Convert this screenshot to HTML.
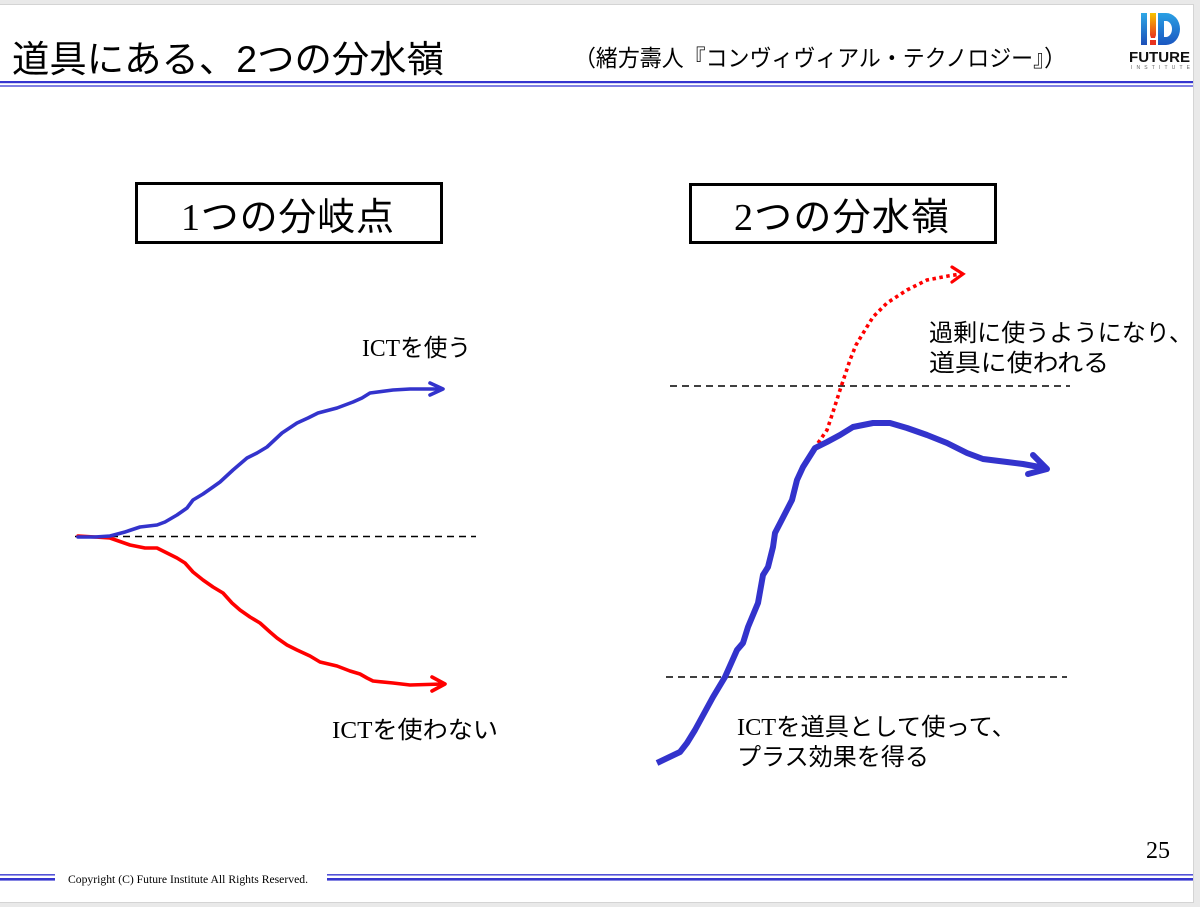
<!DOCTYPE html>
<html>
<head>
<meta charset="utf-8">
<style>
  html,body{margin:0;padding:0;background:#fff;}
  body{width:1200px;height:907px;overflow:hidden;}
  svg{display:block;}
  .jp{font-family:"Liberation Sans","Noto Sans CJK JP",sans-serif;}
  .sf{font-family:"Liberation Serif","Noto Serif CJK SC",serif;}
</style>
</head>
<body>
<svg width="1200" height="907" viewBox="0 0 1200 907" xmlns="http://www.w3.org/2000/svg">
  <defs>
    <linearGradient id="gI" x1="0" y1="0" x2="0" y2="1">
      <stop offset="0" stop-color="#2fa8e6"/>
      <stop offset="1" stop-color="#1d4fb8"/>
    </linearGradient>
    <linearGradient id="gEx" x1="0" y1="0" x2="0" y2="1">
      <stop offset="0" stop-color="#f7c400"/>
      <stop offset="1" stop-color="#e8321e"/>
    </linearGradient>
    <linearGradient id="gD" x1="0" y1="0" x2="0" y2="1">
      <stop offset="0" stop-color="#2aa0e4"/>
      <stop offset="1" stop-color="#1a56c0"/>
    </linearGradient>
  </defs>

  <!-- frame -->
  <rect x="0" y="0" width="1200" height="907" fill="#ffffff"/>
  <rect x="0" y="0" width="1200" height="4" fill="#e9e9e9"/>
  <rect x="1194" y="0" width="6" height="907" fill="#e9e9e9"/>
  <rect x="0" y="903" width="1200" height="4" fill="#e9e9e9"/>
  <line x1="0" y1="4.5" x2="1194" y2="4.5" stroke="#d4d4d4" stroke-width="1"/>
  <line x1="1193.5" y1="4" x2="1193.5" y2="903" stroke="#d4d4d4" stroke-width="1"/>
  <line x1="0" y1="902.5" x2="1194" y2="902.5" stroke="#d4d4d4" stroke-width="1"/>

  <!-- title -->
  <text class="jp" x="12" y="72" font-size="37" fill="#000" textLength="432" lengthAdjust="spacingAndGlyphs">道具にある、2つの分水嶺</text>
  <text class="jp" x="574" y="66" font-size="23" fill="#000" textLength="492" lengthAdjust="spacingAndGlyphs">（緒方壽人『コンヴィヴィアル・テクノロジー』）</text>

  <!-- logo -->
  <rect x="1141" y="13" width="6" height="32" fill="url(#gI)"/>
  <path d="M1150 13 h6 v22 l-1 3 h-4 l-1 -3 z" fill="url(#gEx)"/>
  <rect x="1150" y="40" width="6" height="5" fill="#e8321e"/>
  <path d="M1158 13 h8 a14 16 0 0 1 0 32 h-8 z M1164 21 v16 h2 a6 8 0 0 0 0 -16 z" fill="url(#gD)" fill-rule="evenodd"/>
  <text x="1129" y="62" font-family="Liberation Sans, sans-serif" font-weight="bold" font-size="15" fill="#111" textLength="61" lengthAdjust="spacingAndGlyphs">FUTURE</text>
  <text x="1131" y="69" font-family="Liberation Sans, sans-serif" font-size="5" fill="#666" textLength="59" lengthAdjust="spacing">INSTITUTE</text>

  <!-- header lines -->
  <rect x="0" y="81" width="1193" height="2.2" fill="#3535cf"/>
  <rect x="0" y="85.3" width="1193" height="1.4" fill="#4a4ad6"/>

  <!-- boxes -->
  <rect x="136.5" y="183.5" width="305" height="59" fill="none" stroke="#000" stroke-width="3"/>
  <text x="181" y="230" font-size="38" fill="#000" textLength="213" lengthAdjust="spacing" class="jp"><tspan class="sf">1</tspan>つの分岐点</text>
  <rect x="690.5" y="184.5" width="305" height="58" fill="none" stroke="#000" stroke-width="3"/>
  <text x="734" y="230" font-size="38" fill="#000" textLength="215" lengthAdjust="spacing" class="jp"><tspan class="sf">2</tspan>つの分水嶺</text>

  <!-- left chart -->
  <line x1="75" y1="536.5" x2="476" y2="536.5" stroke="#000" stroke-width="1.4" stroke-dasharray="7 5"/>
  <polyline fill="none" stroke="#ff0000" stroke-width="3.6" stroke-linejoin="round" stroke-linecap="round"
    points="78,536 95,537 110,538 130,545 145,548 157,548 167,553 177,558 185,563 193,572 203,580 213,587 223,593 232,603 240,610 250,617 260,623 270,632 277,638 287,645 297,650 310,656 320,662 337,666 350,671 360,674 367,678 373,681 393,683 410,685 443,684"/>
  <polyline fill="none" stroke="#ff0000" stroke-width="3.6" stroke-linejoin="round" stroke-linecap="round" points="432,677 445,684 432,691"/>
  <polyline fill="none" stroke="#3333cc" stroke-width="3.6" stroke-linejoin="round" stroke-linecap="round"
    points="78,537 95,537 110,536 125,532 140,527 157,525 165,522 177,515 187,508 193,500 203,494 213,487 220,482 233,470 247,458 257,453 267,447 282,433 297,423 308,418 318,413 337,408 353,402 362,398 370,393 393,390 410,389 441,389"/>
  <polyline fill="none" stroke="#3333cc" stroke-width="3.6" stroke-linejoin="round" stroke-linecap="round" points="430,383 443,389 430,395"/>

  <text x="362" y="356" font-size="24" fill="#000" class="jp" textLength="109" lengthAdjust="spacingAndGlyphs"><tspan class="sf">ICT</tspan>を使う</text>
  <text x="332" y="738" font-size="24" fill="#000" class="jp" textLength="166" lengthAdjust="spacingAndGlyphs"><tspan class="sf">ICT</tspan>を使わない</text>

  <!-- right chart -->
  <line x1="670" y1="386" x2="1070" y2="386" stroke="#000" stroke-width="1.4" stroke-dasharray="7 5"/>
  <line x1="666" y1="677" x2="1067" y2="677" stroke="#000" stroke-width="1.4" stroke-dasharray="7 5"/>

  <polyline fill="none" stroke="#ff0000" stroke-width="3.6" stroke-dasharray="3.5 3.5"
    points="818,443 827,430 833,412 840,390 845,375 850,360 856,345 862,335 873,317 887,303 907,290 927,280 948,276 961,274"/>
  <polyline fill="none" stroke="#ff0000" stroke-width="3.2" stroke-linejoin="miter" stroke-linecap="round" points="952,267 963,274 952,282"/>

  <polyline fill="none" stroke="#3333cc" stroke-width="6" stroke-linejoin="round" stroke-linecap="butt"
    points="657,763 680,752 687,743 695,730 713,697 725,677 737,650 743,643 748,627 758,603 763,575 768,567 773,547 775,533 792,500 797,480 803,467 815,448 827,442 840,435 853,427 873,423 890,423 907,428 927,435 947,443 967,453 983,459 1007,462 1023,464 1045,468"/>
  <polyline fill="none" stroke="#3333cc" stroke-width="6" stroke-linejoin="round" stroke-linecap="round" points="1033,455 1047,469 1028,474"/>

  <text x="929" y="341" font-size="24" fill="#000" class="jp" textLength="264" lengthAdjust="spacingAndGlyphs">過剰に使うようになり、</text>
  <text x="929" y="371" font-size="24" fill="#000" class="jp" textLength="180" lengthAdjust="spacingAndGlyphs">道具に使われる</text>

  <text x="737" y="735" font-size="24" fill="#000" class="jp" textLength="279" lengthAdjust="spacingAndGlyphs"><tspan class="sf">ICT</tspan>を道具として使って、</text>
  <text x="737" y="765" font-size="24" fill="#000" class="jp" textLength="192" lengthAdjust="spacingAndGlyphs">プラス効果を得る</text>

  <!-- page number -->
  <text x="1146" y="858" font-size="24" fill="#000" class="sf">25</text>

  <!-- footer -->
  <rect x="0" y="874" width="55" height="1.6" fill="#5252d8"/>
  <rect x="0" y="878" width="55" height="2.6" fill="#3535cf"/>
  <rect x="327" y="874" width="866" height="1.6" fill="#5252d8"/>
  <rect x="327" y="878" width="866" height="2.6" fill="#3535cf"/>
  <text x="68" y="883" font-size="11.5" fill="#000" class="sf" textLength="240" lengthAdjust="spacingAndGlyphs">Copyright (C) Future Institute All Rights Reserved.</text>
</svg>
</body>
</html>
